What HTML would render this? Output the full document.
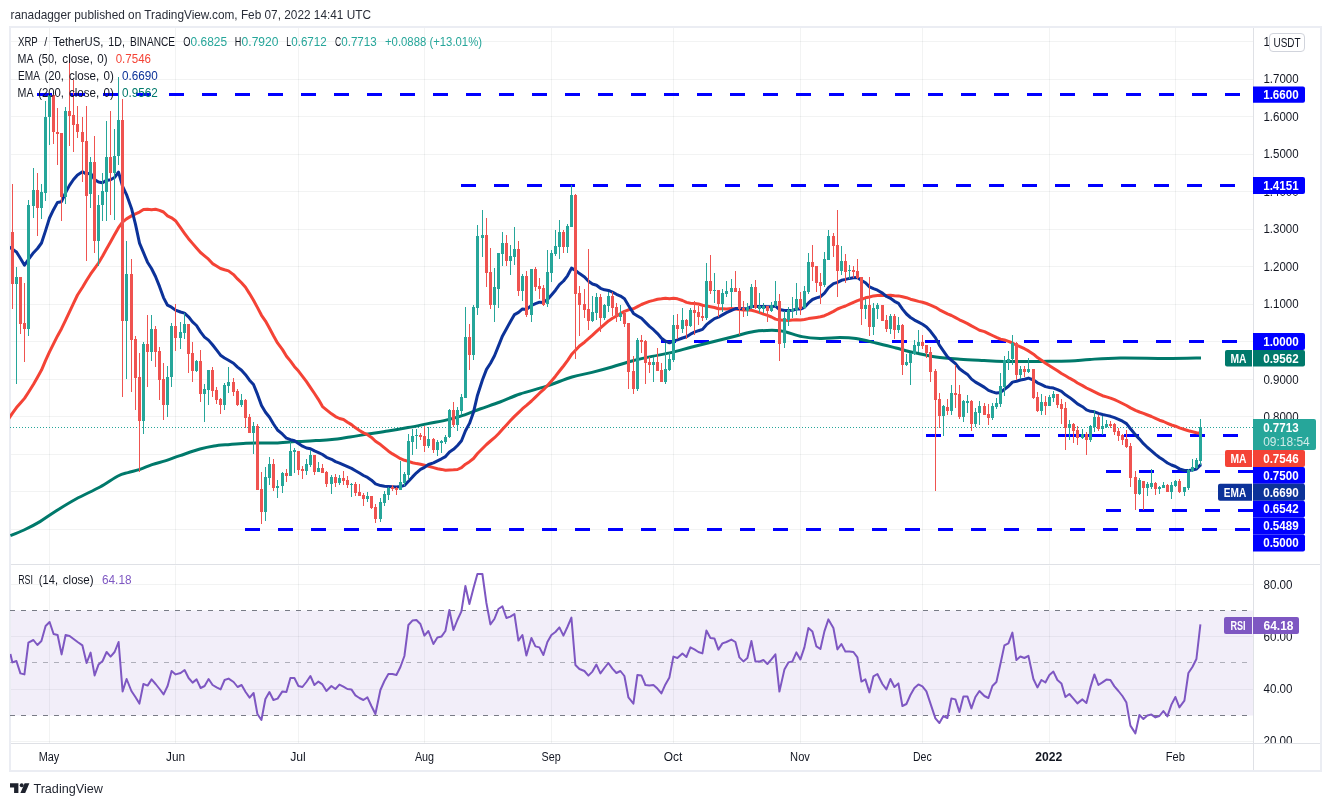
<!DOCTYPE html>
<html lang="en"><head><meta charset="utf-8"><title>XRP / TetherUS chart</title>
<style>html,body{margin:0;padding:0;background:#fff}body{width:1331px;height:806px;overflow:hidden;position:relative}</style>
</head><body>
<svg width="1331" height="806" viewBox="0 0 1331 806" style="display:block;position:absolute;left:0;top:0" font-family='"Liberation Sans", Arial, sans-serif' font-size="12" fill="#131722">
<rect width="1331" height="806" fill="#fff"/>
<defs><filter id="gs" filterUnits="userSpaceOnUse" x="0" y="0" width="1331" height="806" color-interpolation-filters="sRGB"><feOffset dx="0" dy="0"/></filter></defs>
<g filter="url(#gs)">
<rect x="10" y="27" width="1311" height="744" fill="#fff" stroke="#ebedf3" stroke-width="2"/>
<defs><clipPath id="cm"><rect x="10" y="28" width="1243.5" height="536.5"/></clipPath><clipPath id="cr"><rect x="10" y="565" width="1243.5" height="178.5"/></clipPath></defs>
<path d="M49.5 28V564.5M49.5 565.5V743.5M175.5 28V564.5M175.5 565.5V743.5M298.5 28V564.5M298.5 565.5V743.5M424.5 28V564.5M424.5 565.5V743.5M551.5 28V564.5M551.5 565.5V743.5M673.5 28V564.5M673.5 565.5V743.5M800.5 28V564.5M800.5 565.5V743.5M922.5 28V564.5M922.5 565.5V743.5M1049.5 28V564.5M1049.5 565.5V743.5M1175.5 28V564.5M1175.5 565.5V743.5M11 41.5H1253.5M11 79.5H1253.5M11 116.5H1253.5M11 154.5H1253.5M11 191.5H1253.5M11 229.5H1253.5M11 266.5H1253.5M11 304.5H1253.5M11 341.5H1253.5M11 379.5H1253.5M11 416.5H1253.5M11 454.5H1253.5M11 491.5H1253.5M11 529.5H1253.5M11 584.5H1253.5M11 636.5H1253.5M11 689.5H1253.5M11 741.5H1253.5" stroke="#2a2e39" stroke-opacity="0.058" stroke-width="1" fill="none"/>
<rect x="11" y="610.5" width="1242.5" height="105" fill="#7e57c2" fill-opacity="0.1"/>
<path d="M10 610.5H1249M10 715.5H1249" stroke="#787b86" stroke-width="1" stroke-dasharray="5 6" fill="none"/>
<path d="M10 662.5H1249" stroke="#787b86" stroke-opacity="0.55" stroke-width="1" stroke-dasharray="5 6" fill="none"/>
<path d="M11 564.5H1320 M11 743.5H1320 M1253.5 28V770" stroke="#dfe1e6" stroke-width="1" fill="none"/>
<g clip-path="url(#cm)">
<path d="M37 94.5H52M70 94.5H85M103 94.5H118M136 94.5H151M169 94.5H184M202 94.5H217M235 94.5H250M268 94.5H283M301 94.5H316M334 94.5H349M367 94.5H382M400 94.5H415M433 94.5H448M466 94.5H481M499 94.5H514M532 94.5H547M565 94.5H580M598 94.5H613M631 94.5H646M664 94.5H679M697 94.5H712M730 94.5H745M763 94.5H778M796 94.5H811M829 94.5H844M862 94.5H877M895 94.5H910M928 94.5H943M961 94.5H976M994 94.5H1009M1027 94.5H1042M1060 94.5H1075M1093 94.5H1108M1126 94.5H1141M1159 94.5H1174M1192 94.5H1207M1225 94.5H1240M461 185.5H476M494 185.5H509M527 185.5H542M560 185.5H575M593 185.5H608M626 185.5H641M659 185.5H674M692 185.5H707M725 185.5H740M758 185.5H773M791 185.5H806M824 185.5H839M857 185.5H872M890 185.5H905M923 185.5H938M956 185.5H971M989 185.5H1004M1022 185.5H1037M1055 185.5H1070M1088 185.5H1103M1121 185.5H1136M1154 185.5H1169M1187 185.5H1202M1220 185.5H1235M1253 185.5H1253.5M661 341.5H676M694 341.5H709M727 341.5H742M760 341.5H775M793 341.5H808M826 341.5H841M859 341.5H874M892 341.5H907M925 341.5H940M958 341.5H973M991 341.5H1006M1024 341.5H1039M1057 341.5H1072M1090 341.5H1105M1123 341.5H1138M1156 341.5H1171M1189 341.5H1204M1222 341.5H1237M926 435.5H941M959 435.5H974M992 435.5H1007M1025 435.5H1040M1058 435.5H1073M1091 435.5H1106M1124 435.5H1139M1157 435.5H1172M1190 435.5H1205M1223 435.5H1238M1106 471.5H1121M1139 471.5H1154M1172 471.5H1187M1205 471.5H1220M1238 471.5H1253M1106 510.5H1121M1139 510.5H1154M1172 510.5H1187M1205 510.5H1220M1238 510.5H1253M245 529.5H260M278 529.5H293M311 529.5H326M344 529.5H359M377 529.5H392M410 529.5H425M443 529.5H458M476 529.5H491M509 529.5H524M542 529.5H557M575 529.5H590M608 529.5H623M641 529.5H656M674 529.5H689M707 529.5H722M740 529.5H755M773 529.5H788M806 529.5H821M839 529.5H854M872 529.5H887M905 529.5H920M938 529.5H953M971 529.5H986M1004 529.5H1019M1037 529.5H1052M1070 529.5H1085M1103 529.5H1118M1136 529.5H1151M1169 529.5H1184M1202 529.5H1217M1235 529.5H1250M1058 435.5H1106" stroke="#0000ff" stroke-width="3" fill="none"/>
<path d="M10 427.5H1253.5" stroke="#26a69a" stroke-width="1" stroke-dasharray="1 2" fill="none"/>
<path d="M10.4 535.6 C12.7 534.7 19.1 532.3 24.0 530.0 C28.9 527.7 34.7 524.8 40.0 521.6 C45.3 518.4 50.0 514.8 56.0 511.0 C62.0 507.2 68.7 503.0 76.0 499.0 C83.3 495.0 93.0 490.8 100.0 487.0 C107.0 483.2 113.3 478.4 118.0 476.0 C122.7 473.6 124.3 473.7 128.0 472.6 C131.7 471.5 136.0 470.7 140.0 469.4 C144.0 468.1 147.7 466.1 152.0 464.6 C156.3 463.1 161.3 462.1 166.0 460.6 C170.7 459.1 174.3 457.5 180.0 455.6 C185.7 453.7 194.3 450.6 200.0 449.0 C205.7 447.4 209.0 446.8 214.0 446.0 C219.0 445.2 224.7 444.9 230.0 444.4 C235.3 443.9 240.0 443.4 246.0 443.2 C252.0 443.0 261.0 443.0 266.0 443.0 C271.0 443.0 271.0 443.2 276.0 443.0 C281.0 442.8 289.3 442.0 296.0 441.6 C302.7 441.2 310.0 440.9 316.0 440.6 C322.0 440.3 326.3 440.2 332.0 439.6 C337.7 439.0 344.0 437.9 350.0 437.0 C356.0 436.1 361.7 435.0 368.0 434.0 C374.3 433.0 381.3 432.1 388.0 431.0 C394.7 429.9 401.3 428.8 408.0 427.6 C414.7 426.4 422.0 424.8 428.0 423.6 C434.0 422.4 438.7 421.8 444.0 420.6 C449.3 419.4 454.0 418.3 460.0 416.4 C466.0 414.5 473.3 411.4 480.0 409.0 C486.7 406.6 493.3 404.5 500.0 402.0 C506.7 399.5 512.3 396.6 520.0 394.0 C527.7 391.4 537.3 389.2 546.0 386.4 C554.7 383.6 564.3 379.3 572.0 377.0 C579.7 374.7 585.3 374.1 592.0 372.4 C598.7 370.7 605.3 368.9 612.0 367.0 C618.7 365.1 625.3 362.8 632.0 361.0 C638.7 359.2 645.3 357.8 652.0 356.4 C658.7 355.0 665.3 354.0 672.0 352.4 C678.7 350.8 684.7 348.9 692.0 347.0 C699.3 345.1 708.7 342.8 716.0 341.0 C723.3 339.2 729.7 337.6 736.0 336.0 C742.3 334.4 747.3 332.3 754.0 331.4 C760.7 330.5 770.7 330.3 776.0 330.4 C781.3 330.5 781.7 331.0 786.0 332.0 C790.3 333.0 796.3 335.5 802.0 336.6 C807.7 337.7 813.7 338.2 820.0 338.4 C826.3 338.6 834.0 337.6 840.0 337.6 C846.0 337.6 850.0 337.7 856.0 338.6 C862.0 339.5 869.3 341.4 876.0 343.0 C882.7 344.6 889.3 346.3 896.0 348.0 C902.7 349.7 909.3 351.5 916.0 353.0 C922.7 354.5 928.7 356.0 936.0 357.0 C943.3 358.0 952.0 358.6 960.0 359.2 C968.0 359.8 976.7 360.2 984.0 360.6 C991.3 361.0 994.7 361.3 1004.0 361.4 C1013.3 361.5 1029.0 361.5 1040.0 361.4 C1051.0 361.3 1061.7 361.3 1070.0 361.0 C1078.3 360.7 1081.7 359.9 1090.0 359.4 C1098.3 358.9 1107.3 358.2 1120.0 358.0 C1132.7 357.8 1152.5 358.4 1166.0 358.4 C1179.5 358.4 1195.2 358.0 1201.0 357.9" stroke="#00796b" stroke-width="3" fill="none" stroke-linecap="butt" stroke-linejoin="round"/>
<path d="M8.5 419.0 L12.5 413.1 L16.5 407.6 L20.5 403.1 L24.5 398.4 L28.5 392.2 L33.5 384.3 L37.5 377.3 L41.5 370.1 L45.5 360.6 L49.5 351.8 L53.5 343.8 L57.5 335.9 L61.5 328.7 L65.5 320.4 L69.5 311.9 L73.5 303.3 L77.5 295.0 L82.5 287.3 L86.5 280.5 L90.5 274.2 L94.5 268.6 L98.5 263.0 L102.5 256.3 L106.5 249.1 L110.5 241.9 L114.5 234.8 L118.5 227.7 L122.5 222.2 L126.5 218.9 L131.5 215.9 L135.5 213.9 L139.5 212.1 L143.5 209.5 L147.5 209.3 L151.5 209.7 L155.5 209.3 L159.5 210.4 L163.5 212.0 L167.5 215.8 L171.5 217.8 L175.5 220.7 L180.5 227.7 L184.5 233.3 L188.5 238.7 L192.5 243.4 L196.5 248.0 L200.5 252.5 L204.5 255.8 L208.5 259.2 L212.5 263.6 L216.5 266.0 L220.5 268.5 L224.5 269.8 L228.5 270.9 L233.5 274.6 L237.5 278.9 L241.5 282.8 L245.5 287.3 L249.5 293.6 L253.5 300.3 L257.5 307.6 L261.5 315.3 L265.5 321.1 L269.5 328.3 L273.5 335.8 L277.5 342.9 L282.5 349.6 L286.5 356.2 L290.5 361.1 L294.5 366.7 L298.5 371.1 L302.5 376.3 L306.5 381.7 L310.5 387.6 L314.5 393.5 L318.5 399.6 L322.5 406.6 L326.5 409.8 L331.5 413.8 L335.5 416.6 L339.5 418.5 L343.5 419.5 L347.5 422.2 L351.5 424.6 L355.5 427.8 L359.5 430.5 L363.5 432.9 L367.5 434.7 L371.5 437.4 L375.5 441.3 L380.5 444.6 L384.5 447.9 L388.5 451.2 L392.5 453.9 L396.5 456.2 L400.5 458.7 L404.5 460.3 L408.5 461.4 L412.5 462.7 L416.5 463.6 L420.5 464.3 L424.5 465.2 L428.5 466.2 L433.5 467.6 L437.5 468.7 L441.5 469.4 L445.5 470.2 L449.5 470.0 L453.5 469.8 L457.5 469.5 L461.5 467.7 L465.5 464.2 L469.5 461.7 L473.5 458.5 L477.5 453.5 L482.5 448.5 L486.5 444.5 L490.5 441.0 L494.5 437.7 L498.5 433.8 L502.5 429.2 L506.5 424.9 L510.5 420.6 L514.5 416.4 L518.5 412.6 L522.5 408.7 L526.5 405.4 L531.5 401.0 L535.5 397.1 L539.5 393.2 L543.5 389.7 L547.5 385.5 L551.5 380.9 L555.5 376.2 L559.5 371.0 L563.5 366.0 L567.5 360.6 L571.5 354.6 L575.5 350.3 L579.5 346.0 L584.5 342.2 L588.5 338.7 L592.5 335.1 L596.5 331.3 L600.5 327.9 L604.5 324.4 L608.5 320.9 L612.5 318.3 L616.5 316.0 L620.5 313.6 L624.5 311.3 L628.5 309.8 L633.5 308.8 L637.5 306.6 L641.5 304.5 L645.5 302.9 L649.5 301.4 L653.5 300.4 L657.5 299.3 L661.5 298.8 L665.5 298.2 L669.5 298.7 L673.5 298.2 L677.5 298.8 L682.5 300.5 L686.5 302.4 L690.5 303.2 L694.5 303.4 L698.5 304.0 L702.5 305.3 L706.5 306.1 L710.5 306.8 L714.5 307.5 L718.5 308.7 L722.5 308.7 L726.5 309.1 L731.5 308.6 L735.5 309.1 L739.5 309.6 L743.5 310.0 L747.5 310.0 L751.5 310.3 L755.5 311.4 L759.5 312.6 L763.5 314.1 L767.5 315.4 L771.5 317.0 L775.5 319.1 L779.5 320.1 L784.5 320.3 L788.5 320.4 L792.5 320.1 L796.5 319.8 L800.5 320.0 L804.5 319.5 L808.5 318.6 L812.5 318.0 L816.5 317.4 L820.5 316.8 L824.5 315.7 L828.5 313.9 L833.5 311.4 L837.5 309.0 L841.5 307.4 L845.5 306.0 L849.5 304.2 L853.5 302.3 L857.5 300.6 L861.5 299.3 L865.5 297.8 L869.5 297.0 L873.5 295.9 L877.5 295.5 L882.5 295.3 L886.5 295.5 L890.5 295.3 L894.5 295.7 L898.5 295.9 L902.5 296.8 L906.5 297.7 L910.5 299.2 L914.5 300.3 L918.5 301.4 L922.5 302.2 L926.5 303.5 L930.5 305.1 L935.5 307.3 L939.5 309.8 L943.5 311.8 L947.5 313.8 L951.5 315.5 L955.5 317.6 L959.5 319.8 L963.5 321.7 L967.5 323.6 L971.5 325.9 L975.5 328.0 L979.5 330.2 L984.5 331.6 L988.5 333.6 L992.5 335.5 L996.5 337.4 L1000.5 339.1 L1004.5 340.0 L1008.5 341.4 L1012.5 343.0 L1016.5 345.2 L1020.5 346.9 L1024.5 348.7 L1028.5 350.9 L1033.5 354.2 L1037.5 357.6 L1041.5 360.3 L1045.5 363.2 L1049.5 365.7 L1053.5 368.2 L1057.5 370.8 L1061.5 373.5 L1065.5 375.8 L1069.5 378.2 L1073.5 380.3 L1077.5 383.0 L1082.5 385.6 L1086.5 388.0 L1090.5 389.9 L1094.5 391.8 L1098.5 393.8 L1102.5 395.7 L1106.5 396.9 L1110.5 398.1 L1114.5 399.7 L1118.5 401.5 L1122.5 403.5 L1126.5 405.5 L1130.5 407.9 L1135.5 410.4 L1139.5 412.0 L1143.5 413.4 L1147.5 415.0 L1151.5 416.5 L1155.5 418.3 L1159.5 420.2 L1163.5 421.5 L1167.5 423.3 L1171.5 425.0 L1175.5 426.2 L1179.5 427.9 L1184.5 429.5 L1188.5 430.7 L1192.5 431.7 L1196.5 432.7 L1200.5 433.2" stroke="#f44336" stroke-width="3" fill="none" stroke-linecap="butt" stroke-linejoin="round"/>
<path d="M8.5 246.5 L12.5 249.2 L16.5 251.9 L20.5 258.6 L24.5 265.2 L28.5 259.4 L33.5 252.7 L37.5 248.5 L41.5 243.0 L45.5 230.9 L49.5 218.0 L53.5 209.7 L57.5 202.4 L61.5 201.7 L65.5 192.9 L69.5 185.4 L73.5 179.5 L77.5 174.9 L82.5 171.8 L86.5 174.1 L90.5 173.0 L94.5 179.5 L98.5 182.0 L102.5 182.8 L106.5 180.4 L110.5 179.7 L114.5 177.5 L118.5 172.1 L122.5 186.2 L126.5 194.6 L131.5 208.4 L135.5 224.4 L139.5 243.1 L143.5 252.7 L147.5 262.2 L151.5 268.5 L155.5 276.5 L159.5 286.4 L163.5 297.6 L167.5 305.2 L171.5 307.2 L175.5 310.1 L180.5 312.0 L184.5 313.1 L188.5 316.8 L192.5 321.9 L196.5 325.5 L200.5 331.9 L204.5 337.1 L208.5 340.1 L212.5 344.8 L216.5 349.9 L220.5 355.2 L224.5 358.0 L228.5 360.2 L233.5 363.2 L237.5 367.1 L241.5 370.2 L245.5 374.7 L249.5 380.2 L253.5 384.5 L257.5 394.4 L261.5 405.5 L265.5 412.3 L269.5 417.3 L273.5 424.0 L277.5 430.0 L282.5 434.2 L286.5 438.2 L290.5 439.6 L294.5 440.7 L298.5 443.6 L302.5 446.2 L306.5 448.0 L310.5 448.7 L314.5 450.9 L318.5 452.6 L322.5 454.5 L326.5 457.3 L331.5 459.3 L335.5 461.6 L339.5 463.1 L343.5 464.9 L347.5 466.7 L351.5 468.4 L355.5 470.7 L359.5 473.0 L363.5 475.5 L367.5 477.4 L371.5 480.2 L375.5 483.9 L380.5 485.6 L384.5 486.3 L388.5 486.5 L392.5 486.7 L396.5 487.0 L400.5 486.6 L404.5 485.4 L408.5 481.3 L412.5 476.9 L416.5 472.8 L420.5 469.4 L424.5 467.3 L428.5 464.5 L433.5 462.8 L437.5 460.8 L441.5 458.8 L445.5 456.6 L449.5 452.0 L453.5 449.3 L457.5 445.5 L461.5 440.8 L465.5 430.8 L469.5 423.4 L473.5 412.2 L477.5 395.2 L482.5 379.8 L486.5 369.4 L490.5 363.2 L494.5 355.8 L498.5 345.9 L502.5 335.9 L506.5 328.7 L510.5 321.5 L514.5 314.6 L518.5 312.4 L522.5 308.9 L526.5 309.4 L531.5 305.5 L535.5 303.7 L539.5 302.2 L543.5 302.4 L547.5 299.4 L551.5 294.9 L555.5 290.2 L559.5 284.6 L563.5 281.0 L567.5 275.8 L571.5 268.1 L575.5 270.4 L579.5 273.6 L584.5 277.0 L588.5 281.2 L592.5 284.0 L596.5 285.2 L600.5 288.3 L604.5 289.8 L608.5 290.4 L612.5 292.1 L616.5 294.3 L620.5 296.1 L624.5 298.7 L628.5 305.5 L633.5 313.4 L637.5 315.9 L641.5 318.3 L645.5 322.4 L649.5 326.4 L653.5 329.7 L657.5 333.6 L661.5 338.2 L665.5 341.1 L669.5 342.8 L673.5 341.1 L677.5 339.9 L682.5 338.0 L686.5 336.8 L690.5 334.2 L694.5 332.2 L698.5 330.7 L702.5 329.4 L706.5 324.7 L710.5 321.5 L714.5 318.6 L718.5 317.2 L722.5 314.9 L726.5 312.6 L731.5 310.3 L735.5 308.6 L739.5 308.6 L743.5 308.7 L747.5 308.5 L751.5 306.4 L755.5 306.5 L759.5 306.4 L763.5 306.4 L767.5 306.8 L771.5 306.7 L775.5 306.1 L779.5 309.6 L784.5 310.4 L788.5 310.4 L792.5 310.3 L796.5 309.1 L800.5 309.1 L804.5 307.3 L808.5 302.9 L812.5 299.5 L816.5 297.9 L820.5 296.7 L824.5 293.1 L828.5 287.6 L833.5 283.6 L837.5 282.4 L841.5 280.3 L845.5 279.4 L849.5 278.4 L853.5 277.7 L857.5 277.6 L861.5 280.5 L865.5 282.8 L869.5 286.9 L873.5 288.7 L877.5 290.2 L882.5 293.1 L886.5 296.5 L890.5 298.3 L894.5 301.3 L898.5 303.4 L902.5 309.1 L906.5 314.0 L910.5 317.5 L914.5 320.1 L918.5 322.1 L922.5 324.3 L926.5 327.0 L930.5 331.3 L935.5 337.9 L939.5 345.4 L943.5 351.2 L947.5 356.9 L951.5 360.3 L955.5 363.6 L959.5 368.7 L963.5 371.7 L967.5 374.4 L971.5 379.1 L975.5 382.1 L979.5 384.4 L984.5 387.4 L988.5 390.4 L992.5 391.9 L996.5 393.1 L1000.5 392.4 L1004.5 389.3 L1008.5 386.3 L1012.5 382.1 L1016.5 381.3 L1020.5 380.0 L1024.5 379.2 L1028.5 378.1 L1033.5 380.0 L1037.5 382.8 L1041.5 384.6 L1045.5 386.6 L1049.5 387.5 L1053.5 388.1 L1057.5 389.6 L1061.5 391.4 L1065.5 394.8 L1069.5 397.4 L1073.5 400.5 L1077.5 403.9 L1082.5 406.7 L1086.5 409.9 L1090.5 411.3 L1094.5 411.8 L1098.5 413.4 L1102.5 414.5 L1106.5 415.4 L1110.5 416.3 L1114.5 417.7 L1118.5 419.3 L1122.5 421.2 L1126.5 423.6 L1130.5 428.7 L1135.5 434.9 L1139.5 439.1 L1143.5 443.7 L1147.5 447.5 L1151.5 450.8 L1155.5 454.4 L1159.5 457.5 L1163.5 460.1 L1167.5 463.0 L1171.5 465.0 L1175.5 466.5 L1179.5 468.9 L1184.5 470.5 L1188.5 470.4 L1192.5 470.0 L1196.5 469.0 L1200.5 464.9 L1201.6 464.8" stroke="#0c3299" stroke-width="3" fill="none" stroke-linecap="butt" stroke-linejoin="round"/>
<path d="M12 184h1v125h-1zM20 277h1v57h-1zM24 283h1v79h-1zM37 173h1v63h-1zM53 95h1v49h-1zM57 108h1v57h-1zM61 133h1v88h-1zM69 55h1v91h-1zM73 80h1v72h-1zM77 106h1v32h-1zM82 117h1v65h-1zM86 106h1v155h-1zM94 136h1v117h-1zM110 111h1v104h-1zM122 99h1v298h-1zM131 259h1v133h-1zM135 336h1v74h-1zM139 353h1v119h-1zM147 315h1v72h-1zM155 326h1v41h-1zM159 347h1v53h-1zM163 363h1v57h-1zM175 304h1v47h-1zM188 324h1v49h-1zM192 342h1v40h-1zM200 350h1v52h-1zM212 367h1v30h-1zM216 387h1v17h-1zM220 398h1v16h-1zM233 378h1v18h-1zM237 389h1v17h-1zM245 399h1v29h-1zM249 414h1v19h-1zM257 424h1v66h-1zM261 472h1v52h-1zM273 459h1v32h-1zM286 469h1v13h-1zM298 451h1v24h-1zM302 466h1v13h-1zM314 455h1v20h-1zM322 464h1v9h-1zM326 471h1v16h-1zM335 474h1v13h-1zM343 471h1v14h-1zM347 476h1v12h-1zM355 482h1v14h-1zM359 484h1v12h-1zM363 493h1v13h-1zM371 496h1v13h-1zM375 504h1v19h-1zM392 485h1v6h-1zM396 487h1v8h-1zM420 433h1v7h-1zM424 426h1v26h-1zM433 438h1v15h-1zM453 402h1v25h-1zM469 324h1v46h-1zM486 218h1v69h-1zM490 248h1v61h-1zM506 235h1v31h-1zM518 241h1v55h-1zM526 271h1v46h-1zM535 267h1v24h-1zM539 278h1v21h-1zM543 285h1v21h-1zM563 230h1v23h-1zM575 194h1v165h-1zM579 286h1v50h-1zM584 289h1v29h-1zM588 249h1v81h-1zM600 294h1v38h-1zM612 292h1v24h-1zM616 303h1v19h-1zM624 311h1v16h-1zM628 323h1v66h-1zM633 356h1v38h-1zM641 335h1v18h-1zM645 340h1v44h-1zM649 357h1v16h-1zM657 348h1v23h-1zM661 363h1v19h-1zM677 314h1v25h-1zM686 319h1v20h-1zM694 301h1v34h-1zM698 306h1v19h-1zM702 306h1v15h-1zM710 255h1v39h-1zM718 290h1v27h-1zM735 271h1v21h-1zM739 288h1v47h-1zM743 301h1v16h-1zM755 280h1v29h-1zM767 306h1v16h-1zM779 294h1v67h-1zM800 292h1v23h-1zM812 245h1v36h-1zM816 266h1v26h-1zM820 273h1v31h-1zM833 233h1v24h-1zM837 210h1v87h-1zM845 254h1v29h-1zM853 266h1v12h-1zM857 259h1v20h-1zM861 277h1v48h-1zM869 277h1v59h-1zM882 305h1v16h-1zM886 315h1v17h-1zM894 314h1v25h-1zM902 324h1v51h-1zM922 335h1v14h-1zM926 345h1v13h-1zM930 347h1v35h-1zM935 369h1v122h-1zM939 393h1v35h-1zM947 399h1v16h-1zM955 365h1v43h-1zM959 385h1v34h-1zM971 400h1v31h-1zM984 403h1v12h-1zM988 404h1v21h-1zM1016 342h1v38h-1zM1024 366h1v11h-1zM1033 369h1v30h-1zM1037 392h1v20h-1zM1045 396h1v19h-1zM1057 394h1v14h-1zM1061 399h1v25h-1zM1065 402h1v48h-1zM1073 423h1v20h-1zM1077 426h1v19h-1zM1086 432h1v23h-1zM1098 415h1v16h-1zM1110 421h1v7h-1zM1114 423h1v12h-1zM1118 428h1v13h-1zM1122 434h1v11h-1zM1126 430h1v18h-1zM1130 443h1v44h-1zM1135 471h1v39h-1zM1143 481h1v29h-1zM1155 482h1v13h-1zM1167 484h1v8h-1zM1179 479h1v14h-1zM11 232h3v52h-3zM19 277h3v47h-3zM23 323h3v6h-3zM36 190h3v18h-3zM52 95h3v37h-3zM56 132h3v2h-3zM60 133h3v64h-3zM68 111h3v5h-3zM72 115h3v10h-3zM76 124h3v8h-3zM81 132h3v10h-3zM85 141h3v55h-3zM93 162h3v79h-3zM109 157h3v16h-3zM121 120h3v201h-3zM130 274h3v66h-3zM134 339h3v39h-3zM138 377h3v44h-3zM146 344h3v8h-3zM154 329h3v23h-3zM158 351h3v29h-3zM162 379h3v26h-3zM174 326h3v12h-3zM187 324h3v30h-3zM191 353h3v18h-3zM199 361h3v33h-3zM211 370h3v21h-3zM215 390h3v10h-3zM219 399h3v6h-3zM232 382h3v10h-3zM236 391h3v14h-3zM244 400h3v18h-3zM248 417h3v16h-3zM256 426h3v64h-3zM260 489h3v23h-3zM272 464h3v24h-3zM285 473h3v3h-3zM297 451h3v19h-3zM301 469h3v2h-3zM313 455h3v17h-3zM321 468h3v5h-3zM325 472h3v12h-3zM334 477h3v6h-3zM342 478h3v3h-3zM346 480h3v5h-3zM354 484h3v9h-3zM358 492h3v4h-3zM362 495h3v4h-3zM370 496h3v12h-3zM374 507h3v12h-3zM391 487h3v2h-3zM395 488h3v2h-3zM419 435h3v2h-3zM423 436h3v10h-3zM432 439h3v11h-3zM452 410h3v15h-3zM468 337h3v18h-3zM485 235h3v38h-3zM489 272h3v33h-3zM505 243h3v18h-3zM517 249h3v42h-3zM525 276h3v39h-3zM534 269h3v18h-3zM538 286h3v3h-3zM542 288h3v17h-3zM562 232h3v15h-3zM574 195h3v99h-3zM578 293h3v12h-3zM583 304h3v6h-3zM587 309h3v12h-3zM599 297h3v21h-3zM611 296h3v12h-3zM615 307h3v9h-3zM623 313h3v11h-3zM627 323h3v49h-3zM632 371h3v18h-3zM640 340h3v2h-3zM644 341h3v22h-3zM648 362h3v3h-3zM656 362h3v9h-3zM660 370h3v12h-3zM676 325h3v4h-3zM685 320h3v6h-3zM693 310h3v3h-3zM697 312h3v5h-3zM701 316h3v2h-3zM709 281h3v10h-3zM717 290h3v14h-3zM734 288h3v4h-3zM738 291h3v18h-3zM742 308h3v2h-3zM754 287h3v21h-3zM766 306h3v5h-3zM778 301h3v43h-3zM799 299h3v10h-3zM811 262h3v5h-3zM815 266h3v17h-3zM819 282h3v4h-3zM832 236h3v10h-3zM836 245h3v26h-3zM844 261h3v11h-3zM852 270h3v2h-3zM856 271h3v7h-3zM860 277h3v32h-3zM868 305h3v22h-3zM881 305h3v16h-3zM885 320h3v9h-3zM893 316h3v14h-3zM901 325h3v40h-3zM921 342h3v4h-3zM925 345h3v8h-3zM929 352h3v20h-3zM934 371h3v29h-3zM938 399h3v17h-3zM946 407h3v4h-3zM954 393h3v2h-3zM958 394h3v23h-3zM970 401h3v23h-3zM983 406h3v9h-3zM987 414h3v4h-3zM1015 343h3v32h-3zM1023 369h3v3h-3zM1032 369h3v29h-3zM1036 397h3v14h-3zM1044 402h3v4h-3zM1056 394h3v11h-3zM1060 404h3v5h-3zM1064 408h3v20h-3zM1072 424h3v7h-3zM1076 430h3v8h-3zM1085 434h3v6h-3zM1097 417h3v12h-3zM1109 424h3v2h-3zM1113 424h3v8h-3zM1117 431h3v5h-3zM1121 435h3v5h-3zM1125 439h3v8h-3zM1129 446h3v32h-3zM1134 477h3v17h-3zM1142 481h3v7h-3zM1154 483h3v6h-3zM1166 485h3v7h-3zM1178 481h3v11h-3z" fill="#ef5350"/>
<path d="M16 267h1v117h-1zM28 200h1v136h-1zM33 168h1v50h-1zM41 184h1v35h-1zM45 101h1v100h-1zM49 93h1v52h-1zM65 107h1v97h-1zM90 157h1v51h-1zM98 195h1v71h-1zM102 173h1v48h-1zM106 121h1v100h-1zM114 129h1v91h-1zM118 77h1v88h-1zM126 241h1v138h-1zM143 342h1v92h-1zM151 315h1v46h-1zM167 366h1v51h-1zM171 323h1v64h-1zM180 322h1v27h-1zM184 313h1v26h-1zM196 360h1v12h-1zM204 384h1v38h-1zM208 370h1v35h-1zM224 383h1v27h-1zM228 367h1v26h-1zM241 394h1v13h-1zM253 422h1v32h-1zM265 467h1v54h-1zM269 457h1v28h-1zM277 480h1v18h-1zM282 472h1v21h-1zM290 442h1v34h-1zM294 448h1v25h-1zM306 459h1v16h-1zM310 450h1v17h-1zM318 462h1v10h-1zM331 475h1v19h-1zM339 475h1v10h-1zM351 483h1v14h-1zM367 492h1v10h-1zM380 498h1v24h-1zM384 491h1v15h-1zM388 487h1v13h-1zM400 461h1v29h-1zM404 472h1v14h-1zM408 434h1v46h-1zM412 429h1v26h-1zM416 429h1v20h-1zM428 427h1v21h-1zM437 440h1v16h-1zM441 440h1v13h-1zM445 435h1v9h-1zM449 409h1v29h-1zM457 407h1v24h-1zM461 394h1v21h-1zM465 307h1v91h-1zM473 305h1v55h-1zM477 225h1v90h-1zM482 210h1v47h-1zM494 268h1v54h-1zM498 253h1v55h-1zM502 232h1v34h-1zM510 245h1v30h-1zM514 227h1v38h-1zM522 274h1v27h-1zM531 269h1v53h-1zM547 250h1v57h-1zM551 250h1v32h-1zM555 230h1v26h-1zM559 220h1v39h-1zM567 224h1v29h-1zM571 185h1v42h-1zM592 296h1v26h-1zM596 293h1v27h-1zM604 304h1v16h-1zM608 292h1v20h-1zM620 305h1v16h-1zM637 338h1v53h-1zM653 357h1v25h-1zM665 343h1v41h-1zM669 353h1v18h-1zM673 315h1v47h-1zM682 308h1v25h-1zM690 308h1v19h-1zM706 263h1v57h-1zM714 273h1v30h-1zM722 289h1v23h-1zM726 281h1v16h-1zM731 279h1v28h-1zM747 303h1v13h-1zM751 284h1v25h-1zM759 293h1v20h-1zM763 303h1v10h-1zM771 302h1v10h-1zM775 281h1v26h-1zM784 311h1v37h-1zM788 307h1v19h-1zM792 297h1v21h-1zM796 283h1v32h-1zM804 286h1v23h-1zM808 253h1v41h-1zM824 252h1v35h-1zM828 230h1v30h-1zM841 246h1v29h-1zM849 265h1v14h-1zM865 299h1v20h-1zM873 303h1v32h-1zM877 303h1v16h-1zM890 314h1v20h-1zM898 317h1v16h-1zM906 354h1v12h-1zM910 353h1v32h-1zM914 340h1v15h-1zM918 330h1v22h-1zM943 405h1v31h-1zM951 385h1v30h-1zM963 400h1v22h-1zM967 395h1v18h-1zM975 408h1v19h-1zM979 401h1v24h-1zM992 403h1v17h-1zM996 398h1v11h-1zM1000 373h1v34h-1zM1004 356h1v40h-1zM1008 351h1v19h-1zM1012 335h1v30h-1zM1020 366h1v13h-1zM1028 358h1v15h-1zM1041 394h1v21h-1zM1049 395h1v11h-1zM1053 391h1v11h-1zM1069 420h1v20h-1zM1082 429h1v10h-1zM1090 425h1v17h-1zM1094 410h1v22h-1zM1102 416h1v19h-1zM1106 420h1v8h-1zM1139 478h1v17h-1zM1147 482h1v14h-1zM1151 469h1v20h-1zM1159 486h1v8h-1zM1163 482h1v6h-1zM1171 482h1v17h-1zM1175 480h1v7h-1zM1184 487h1v9h-1zM1188 469h1v21h-1zM1192 459h1v13h-1zM1196 458h1v11h-1zM1200 419h1v46h-1zM15 277h3v7h-3zM27 205h3v124h-3zM32 190h3v16h-3zM40 192h3v16h-3zM44 117h3v76h-3zM48 95h3v22h-3zM64 111h3v86h-3zM89 162h3v32h-3zM97 205h3v36h-3zM101 191h3v14h-3zM105 157h3v35h-3zM113 156h3v17h-3zM117 120h3v36h-3zM125 274h3v47h-3zM142 344h3v77h-3zM150 329h3v23h-3zM166 377h3v28h-3zM170 326h3v51h-3zM179 332h3v6h-3zM183 324h3v9h-3zM195 361h3v10h-3zM203 389h3v5h-3zM207 370h3v20h-3zM223 385h3v20h-3zM227 382h3v4h-3zM240 400h3v5h-3zM252 426h3v7h-3zM264 477h3v35h-3zM268 464h3v14h-3zM276 486h3v2h-3zM281 473h3v13h-3zM289 451h3v25h-3zM293 450h3v2h-3zM305 464h3v7h-3zM309 455h3v10h-3zM317 468h3v4h-3zM330 477h3v7h-3zM338 478h3v5h-3zM350 484h3v1h-3zM366 496h3v3h-3zM379 502h3v17h-3zM383 494h3v9h-3zM387 488h3v7h-3zM399 482h3v8h-3zM403 474h3v9h-3zM407 441h3v34h-3zM411 436h3v6h-3zM415 435h3v1h-3zM427 439h3v7h-3zM436 442h3v8h-3zM440 441h3v2h-3zM444 437h3v5h-3zM448 410h3v27h-3zM456 410h3v15h-3zM460 397h3v14h-3zM464 337h3v61h-3zM472 307h3v48h-3zM476 236h3v72h-3zM481 235h3v3h-3zM493 287h3v18h-3zM497 253h3v36h-3zM501 243h3v11h-3zM509 256h3v5h-3zM513 249h3v8h-3zM521 276h3v15h-3zM530 269h3v46h-3zM546 272h3v32h-3zM550 253h3v20h-3zM554 246h3v8h-3zM558 232h3v15h-3zM566 226h3v21h-3zM570 195h3v32h-3zM591 312h3v9h-3zM595 297h3v16h-3zM603 305h3v13h-3zM607 296h3v10h-3zM619 313h3v4h-3zM636 340h3v49h-3zM652 362h3v3h-3zM664 369h3v13h-3zM668 359h3v11h-3zM672 325h3v35h-3zM681 320h3v9h-3zM689 310h3v16h-3zM705 281h3v37h-3zM713 290h3v1h-3zM721 293h3v11h-3zM725 291h3v3h-3zM730 288h3v4h-3zM746 307h3v4h-3zM750 287h3v21h-3zM758 306h3v3h-3zM762 306h3v3h-3zM770 305h3v6h-3zM774 301h3v5h-3zM783 318h3v25h-3zM787 310h3v10h-3zM791 309h3v2h-3zM795 299h3v11h-3zM803 291h3v17h-3zM807 262h3v30h-3zM823 259h3v26h-3zM827 236h3v24h-3zM840 261h3v10h-3zM848 270h3v1h-3zM864 305h3v4h-3zM872 308h3v19h-3zM876 305h3v4h-3zM889 316h3v13h-3zM897 325h3v5h-3zM905 362h3v3h-3zM909 353h3v10h-3zM913 345h3v9h-3zM917 342h3v4h-3zM942 406h3v10h-3zM950 393h3v18h-3zM962 401h3v16h-3zM966 401h3v2h-3zM974 412h3v12h-3zM978 406h3v7h-3zM991 406h3v12h-3zM995 403h3v4h-3zM999 386h3v18h-3zM1003 360h3v27h-3zM1007 359h3v3h-3zM1011 343h3v16h-3zM1019 369h3v6h-3zM1027 369h3v3h-3zM1040 402h3v9h-3zM1048 397h3v9h-3zM1052 394h3v4h-3zM1068 424h3v4h-3zM1081 434h3v4h-3zM1089 426h3v14h-3zM1093 417h3v10h-3zM1101 426h3v3h-3zM1105 424h3v3h-3zM1138 480h3v14h-3zM1146 484h3v4h-3zM1150 483h3v4h-3zM1158 487h3v2h-3zM1162 485h3v3h-3zM1170 485h3v7h-3zM1174 481h3v5h-3zM1183 487h3v5h-3zM1187 470h3v18h-3zM1191 467h3v4h-3zM1195 460h3v8h-3zM1199 427h3v34h-3z" fill="#26a69a"/>
</g>
<g clip-path="url(#cr)"><path d="M10.4 654.0 L12.4 662.4 L16.4 661.0 L20.4 673.4 L24.4 674.4 L28.4 642.6 L33.4 640.0 L37.4 645.0 L41.4 641.0 L45.6 626.0 L49.6 622.0 L53.6 634.0 L57.6 635.0 L61.6 654.4 L65.6 635.0 L69.6 636.0 L73.6 639.0 L77.6 642.0 L82.4 645.4 L86.6 663.0 L90.6 652.6 L94.6 675.4 L98.6 664.4 L102.6 661.0 L106.6 652.0 L110.6 656.6 L114.6 652.0 L118.6 642.0 L122.6 691.4 L126.6 679.0 L131.4 691.0 L135.4 697.0 L139.4 703.6 L143.4 684.0 L147.6 685.6 L151.6 679.4 L155.6 684.0 L159.6 689.0 L163.6 694.4 L167.6 686.0 L171.6 671.0 L175.6 674.4 L180.6 673.0 L184.6 670.0 L188.6 678.0 L192.6 682.6 L196.6 679.4 L200.6 688.0 L204.6 686.0 L208.6 679.0 L212.6 685.0 L216.6 687.4 L220.6 689.4 L224.6 680.0 L228.6 678.6 L233.6 682.0 L237.6 687.0 L241.6 685.0 L245.6 692.0 L249.6 697.6 L253.6 693.0 L257.4 714.0 L261.4 720.0 L265.4 699.0 L269.4 692.0 L273.4 700.0 L277.6 698.6 L282.4 691.4 L286.4 692.0 L290.4 678.0 L294.4 678.0 L298.4 686.0 L302.4 687.0 L306.4 682.0 L310.4 676.0 L314.4 685.0 L318.4 681.6 L322.4 684.4 L326.4 691.0 L331.4 686.0 L335.4 689.0 L339.4 684.6 L343.4 686.6 L347.4 689.0 L351.4 689.4 L355.4 695.4 L359.4 698.0 L363.4 700.0 L367.4 697.4 L371.4 706.0 L375.4 714.0 L380.4 690.0 L384.4 681.0 L388.4 674.0 L392.4 674.0 L396.4 675.0 L400.4 667.0 L404.4 656.0 L408.4 625.0 L412.4 620.6 L416.4 620.0 L420.4 624.0 L424.4 635.6 L428.4 631.0 L433.4 644.0 L437.4 637.4 L441.4 636.6 L445.4 631.0 L449.4 610.0 L453.4 630.0 L457.4 620.0 L461.4 611.4 L465.4 586.0 L469.4 604.0 L473.4 588.6 L477.4 574.0 L482.4 574.0 L486.4 603.0 L490.4 624.4 L494.4 619.0 L498.4 609.0 L502.4 606.4 L506.4 618.0 L510.4 616.6 L514.4 614.0 L518.4 640.6 L522.4 635.0 L526.4 655.6 L531.4 638.0 L535.4 646.4 L539.4 647.4 L543.4 655.0 L547.4 642.0 L551.4 635.0 L555.4 632.0 L559.4 627.4 L563.4 635.6 L567.4 627.0 L571.4 617.6 L575.4 665.0 L579.4 669.0 L584.4 671.0 L588.4 675.6 L592.4 671.6 L596.4 664.6 L600.4 673.4 L604.4 668.0 L608.4 663.0 L612.4 668.6 L616.4 673.0 L620.4 671.0 L624.4 676.0 L628.4 697.4 L633.4 703.6 L637.4 675.0 L641.4 675.4 L645.4 685.0 L649.4 685.6 L653.4 685.0 L657.4 688.6 L661.4 693.4 L665.4 684.4 L669.4 677.4 L673.4 656.6 L677.4 658.0 L682.4 653.6 L686.4 657.0 L690.4 647.4 L694.4 649.4 L698.4 652.0 L702.4 653.4 L706.4 630.6 L710.4 638.0 L714.4 638.4 L718.4 649.6 L722.4 643.4 L726.4 642.0 L731.4 639.6 L735.4 642.0 L739.4 657.4 L743.4 661.4 L747.4 658.0 L751.4 641.0 L755.4 661.6 L759.4 661.6 L763.4 660.0 L767.4 664.0 L771.4 659.4 L775.4 654.4 L779.4 691.6 L784.4 669.6 L788.4 662.4 L792.4 661.4 L796.4 652.4 L800.4 659.4 L804.4 647.4 L808.4 628.0 L812.4 631.4 L816.4 646.4 L820.4 649.0 L824.4 631.4 L828.4 619.4 L833.4 628.0 L837.4 649.4 L841.4 644.0 L845.4 651.6 L849.4 651.6 L853.4 652.0 L857.4 657.4 L861.4 681.6 L865.4 679.4 L869.4 692.4 L873.4 676.4 L877.4 674.0 L882.4 684.0 L886.4 689.4 L890.4 679.0 L894.4 687.0 L898.4 683.4 L902.4 706.0 L906.4 704.0 L910.4 695.0 L914.4 688.0 L918.4 684.4 L922.4 686.4 L926.4 691.4 L930.4 703.4 L935.4 718.4 L939.4 723.0 L943.4 716.0 L947.4 718.0 L951.4 698.4 L955.4 699.4 L959.4 712.0 L963.4 696.4 L967.4 696.4 L971.4 708.4 L975.4 697.0 L979.4 691.0 L984.4 696.0 L988.4 698.0 L992.4 686.0 L996.4 682.0 L1000.4 664.0 L1004.4 645.4 L1008.4 643.4 L1012.4 632.6 L1016.4 660.0 L1020.4 656.5 L1024.4 658.0 L1028.4 655.8 L1033.4 679.0 L1037.4 687.4 L1041.4 680.0 L1045.4 682.4 L1049.4 675.0 L1053.4 671.6 L1057.4 680.0 L1061.4 683.4 L1065.4 697.0 L1069.4 694.0 L1073.4 698.6 L1077.4 703.4 L1082.4 699.4 L1086.4 703.0 L1090.4 687.4 L1094.4 674.4 L1098.4 685.0 L1102.4 682.4 L1106.4 679.6 L1110.4 680.0 L1114.4 686.4 L1118.4 691.0 L1122.4 696.0 L1126.4 702.6 L1130.4 725.6 L1135.4 733.4 L1139.4 715.0 L1143.4 719.0 L1147.4 715.4 L1151.4 714.6 L1155.4 717.4 L1159.4 716.0 L1163.4 711.0 L1167.4 716.4 L1171.4 704.6 L1175.4 697.0 L1179.4 707.4 L1184.4 700.6 L1188.4 673.0 L1192.4 667.0 L1196.4 659.0 L1200.4 624.4" stroke="#7e57c2" stroke-width="2" fill="none" stroke-linejoin="round"/></g>
<text x="10.5" y="19" textLength="360.5" lengthAdjust="spacingAndGlyphs" fill="#2a2e39" font-size="13">ranadagger published on TradingView.com, Feb 07, 2022 14:41 UTC</text>
<text x="18.2" y="584.3" textLength="14.8" lengthAdjust="spacingAndGlyphs">RSI</text>
<text x="38.8" y="584.3" textLength="19.2" lengthAdjust="spacingAndGlyphs">(14,</text>
<text x="62.8" y="584.3" textLength="30.8" lengthAdjust="spacingAndGlyphs">close)</text>
<text x="102" y="584.3" textLength="29.5" lengthAdjust="spacingAndGlyphs" fill="#7e57c2">64.18</text>
<text x="18" y="45.9" textLength="19.8" lengthAdjust="spacingAndGlyphs">XRP</text>
<text x="44.3" y="45.9" textLength="3" lengthAdjust="spacingAndGlyphs">/</text>
<text x="53" y="45.9" textLength="50.4" lengthAdjust="spacingAndGlyphs">TetherUS,</text>
<text x="108.3" y="45.9" textLength="16.6" lengthAdjust="spacingAndGlyphs">1D,</text>
<text x="130" y="45.9" textLength="45" lengthAdjust="spacingAndGlyphs">BINANCE</text>
<text x="183.3" y="45.9" textLength="7.2" lengthAdjust="spacingAndGlyphs">O</text>
<text x="190.6" y="45.9" textLength="36.4" lengthAdjust="spacingAndGlyphs" fill="#26a69a">0.6825</text>
<text x="234.8" y="45.9" textLength="6.6" lengthAdjust="spacingAndGlyphs">H</text>
<text x="241.6" y="45.9" textLength="36.8" lengthAdjust="spacingAndGlyphs" fill="#26a69a">0.7920</text>
<text x="286.3" y="45.9" textLength="4.8" lengthAdjust="spacingAndGlyphs">L</text>
<text x="291.2" y="45.9" textLength="35.6" lengthAdjust="spacingAndGlyphs" fill="#26a69a">0.6712</text>
<text x="335" y="45.9" textLength="6.2" lengthAdjust="spacingAndGlyphs">C</text>
<text x="341.2" y="45.9" textLength="35.6" lengthAdjust="spacingAndGlyphs" fill="#26a69a">0.7713</text>
<text x="385" y="45.9" textLength="97" lengthAdjust="spacingAndGlyphs" fill="#26a69a">+0.0888 (+13.01%)</text>
<text x="17.6" y="62.8" textLength="16" lengthAdjust="spacingAndGlyphs">MA</text>
<text x="38.2" y="62.8" textLength="19" lengthAdjust="spacingAndGlyphs">(50,</text>
<text x="62.3" y="62.8" textLength="30.6" lengthAdjust="spacingAndGlyphs">close,</text>
<text x="97.2" y="62.8" textLength="10.3" lengthAdjust="spacingAndGlyphs">0)</text>
<text x="115.7" y="62.8" textLength="35.3" lengthAdjust="spacingAndGlyphs" fill="#f44336">0.7546</text>
<text x="18" y="79.7" textLength="22" lengthAdjust="spacingAndGlyphs">EMA</text>
<text x="44.6" y="79.7" textLength="19.4" lengthAdjust="spacingAndGlyphs">(20,</text>
<text x="69" y="79.7" textLength="30.3" lengthAdjust="spacingAndGlyphs">close,</text>
<text x="103.6" y="79.7" textLength="10.3" lengthAdjust="spacingAndGlyphs">0)</text>
<text x="122" y="79.7" textLength="35.8" lengthAdjust="spacingAndGlyphs" fill="#0c3299">0.6690</text>
<text x="17.6" y="96.6" textLength="16" lengthAdjust="spacingAndGlyphs">MA</text>
<text x="38.2" y="96.6" textLength="25.8" lengthAdjust="spacingAndGlyphs">(200,</text>
<text x="69" y="96.6" textLength="30.3" lengthAdjust="spacingAndGlyphs">close,</text>
<text x="103.6" y="96.6" textLength="10.3" lengthAdjust="spacingAndGlyphs">0)</text>
<text x="122" y="96.6" textLength="35.8" lengthAdjust="spacingAndGlyphs" fill="#00796b">0.9562</text>
<text x="1263.4" y="45.8" textLength="35.2" lengthAdjust="spacingAndGlyphs">1.8000</text>
<text x="1263.4" y="83.1" textLength="35.2" lengthAdjust="spacingAndGlyphs">1.7000</text>
<text x="1263.4" y="120.7" textLength="35.2" lengthAdjust="spacingAndGlyphs">1.6000</text>
<text x="1263.4" y="158.3" textLength="35.2" lengthAdjust="spacingAndGlyphs">1.5000</text>
<text x="1263.4" y="195.7" textLength="35.2" lengthAdjust="spacingAndGlyphs">1.4000</text>
<text x="1263.4" y="233.3" textLength="35.2" lengthAdjust="spacingAndGlyphs">1.3000</text>
<text x="1263.4" y="270.9" textLength="35.2" lengthAdjust="spacingAndGlyphs">1.2000</text>
<text x="1263.4" y="308.1" textLength="35.2" lengthAdjust="spacingAndGlyphs">1.1000</text>
<text x="1263.4" y="383.5" textLength="35.2" lengthAdjust="spacingAndGlyphs">0.9000</text>
<text x="1263.4" y="420.7" textLength="35.2" lengthAdjust="spacingAndGlyphs">0.8000</text>
<text x="1263.5" y="588.8" textLength="29" lengthAdjust="spacingAndGlyphs">80.00</text>
<text x="1263.5" y="640.9" textLength="29" lengthAdjust="spacingAndGlyphs">60.00</text>
<text x="1263.5" y="693.3" textLength="29" lengthAdjust="spacingAndGlyphs">40.00</text>
<clipPath id="c20"><rect x="1255" y="730" width="60" height="13"/></clipPath><g clip-path="url(#c20)">
<text x="1263.5" y="744.8" textLength="29" lengthAdjust="spacingAndGlyphs">20.00</text>
</g>
<rect x="1269.5" y="33.5" width="35" height="18" rx="3.5" fill="#fff" stroke="#d1d4dc"/>
<text x="1287" y="46.8" textLength="27" lengthAdjust="spacingAndGlyphs" text-anchor="middle">USDT</text>
<path d="M1253 86.4H1303a2 2 0 0 1 2 2V100.8a2 2 0 0 1 -2 2H1253z" fill="#0000ff"/>
<text x="1263.2" y="98.9" textLength="35.5" lengthAdjust="spacingAndGlyphs" fill="#fff" font-weight="bold">1.6600</text>
<path d="M1253 177H1303a2 2 0 0 1 2 2V192a2 2 0 0 1 -2 2H1253z" fill="#0000ff"/>
<text x="1263.2" y="189.8" textLength="35.5" lengthAdjust="spacingAndGlyphs" fill="#fff" font-weight="bold">1.4151</text>
<path d="M1253 333H1303a2 2 0 0 1 2 2V348a2 2 0 0 1 -2 2H1253z" fill="#0000ff"/>
<text x="1263.2" y="345.8" textLength="35.5" lengthAdjust="spacingAndGlyphs" fill="#fff" font-weight="bold">1.0000</text>
<path d="M1253 350H1303a2 2 0 0 1 2 2V364.6a2 2 0 0 1 -2 2H1253z" fill="#00796b"/>
<text x="1263.2" y="362.6" textLength="35.5" lengthAdjust="spacingAndGlyphs" fill="#fff" font-weight="bold">0.9562</text>
<path d="M1252 350H1227a2 2 0 0 0 -2 2V364.6a2 2 0 0 0 2 2H1252z" fill="#00796b"/>
<text x="1230.5" y="362.6" textLength="16" lengthAdjust="spacingAndGlyphs" fill="#fff" font-weight="bold">MA</text>
<path d="M1253 419H1314a2 2 0 0 1 2 2V448a2 2 0 0 1 -2 2H1253z" fill="#26a69a"/>
<text x="1263.2" y="432" textLength="35.4" lengthAdjust="spacingAndGlyphs" fill="#fff" font-weight="bold">0.7713</text>
<text x="1263.2" y="446" textLength="46.6" lengthAdjust="spacingAndGlyphs" fill="#d0ebe8">09:18:54</text>
<path d="M1253 450H1303a2 2 0 0 1 2 2V464.9a2 2 0 0 1 -2 2H1253z" fill="#f44336"/>
<text x="1263.2" y="462.75" textLength="35.5" lengthAdjust="spacingAndGlyphs" fill="#fff" font-weight="bold">0.7546</text>
<path d="M1252 450H1227a2 2 0 0 0 -2 2V464.9a2 2 0 0 0 2 2H1252z" fill="#f44336"/>
<text x="1230.5" y="462.75" textLength="16" lengthAdjust="spacingAndGlyphs" fill="#fff" font-weight="bold">MA</text>
<path d="M1253 466.9H1303a2 2 0 0 1 2 2V481.8a2 2 0 0 1 -2 2H1253z" fill="#0000ff"/>
<text x="1263.2" y="479.65" textLength="35.5" lengthAdjust="spacingAndGlyphs" fill="#fff" font-weight="bold">0.7500</text>
<path d="M1253 483.8H1303a2 2 0 0 1 2 2V498.7a2 2 0 0 1 -2 2H1253z" fill="#0c3299"/>
<text x="1263.2" y="496.55" textLength="35.5" lengthAdjust="spacingAndGlyphs" fill="#fff" font-weight="bold">0.6690</text>
<path d="M1252 483.8H1220a2 2 0 0 0 -2 2V498.7a2 2 0 0 0 2 2H1252z" fill="#0c3299"/>
<text x="1223.8" y="496.55" textLength="22.4" lengthAdjust="spacingAndGlyphs" fill="#fff" font-weight="bold">EMA</text>
<path d="M1253 500.7H1303a2 2 0 0 1 2 2V515.6a2 2 0 0 1 -2 2H1253z" fill="#0000ff"/>
<text x="1263.2" y="513.45" textLength="35.5" lengthAdjust="spacingAndGlyphs" fill="#fff" font-weight="bold">0.6542</text>
<path d="M1253 517.6H1303a2 2 0 0 1 2 2V532.5a2 2 0 0 1 -2 2H1253z" fill="#0000ff"/>
<text x="1263.2" y="530.35" textLength="35.5" lengthAdjust="spacingAndGlyphs" fill="#fff" font-weight="bold">0.5489</text>
<path d="M1253 534.5H1303a2 2 0 0 1 2 2V549.4a2 2 0 0 1 -2 2H1253z" fill="#0000ff"/>
<text x="1263.2" y="547.25" textLength="35.5" lengthAdjust="spacingAndGlyphs" fill="#fff" font-weight="bold">0.5000</text>
<path d="M1253 617H1297a2 2 0 0 1 2 2V632a2 2 0 0 1 -2 2H1253z" fill="#7e57c2"/>
<text x="1263.5" y="629.8" textLength="30" lengthAdjust="spacingAndGlyphs" fill="#fff" font-weight="bold">64.18</text>
<path d="M1252 617H1226a2 2 0 0 0 -2 2V632a2 2 0 0 0 2 2H1252z" fill="#7e57c2"/>
<text x="1230.4" y="629.8" textLength="15.2" lengthAdjust="spacingAndGlyphs" fill="#fff" font-weight="bold">RSI</text>
<text x="38.65" y="760.8" textLength="20.7" lengthAdjust="spacingAndGlyphs">May</text>
<text x="166" y="760.8" textLength="19" lengthAdjust="spacingAndGlyphs">Jun</text>
<text x="290.2" y="760.8" textLength="15.6" lengthAdjust="spacingAndGlyphs">Jul</text>
<text x="414.9" y="760.8" textLength="19.2" lengthAdjust="spacingAndGlyphs">Aug</text>
<text x="541.5" y="760.8" textLength="19.2" lengthAdjust="spacingAndGlyphs">Sep</text>
<text x="663.75" y="760.8" textLength="18.5" lengthAdjust="spacingAndGlyphs">Oct</text>
<text x="790.1" y="760.8" textLength="19.8" lengthAdjust="spacingAndGlyphs">Nov</text>
<text x="912.9" y="760.8" textLength="18.8" lengthAdjust="spacingAndGlyphs">Dec</text>
<text x="1035.3" y="760.8" textLength="27" lengthAdjust="spacingAndGlyphs" font-weight="bold">2022</text>
<text x="1165.8" y="760.8" textLength="19.2" lengthAdjust="spacingAndGlyphs">Feb</text>
<g fill="#1e222d"><path d="M10 783.2h8.4v9.8h-4.3v-5.6h-4.1z"/><circle cx="21.7" cy="785.2" r="1.95"/><path d="M24.6 783.2h4.8l-4.2 9.8h-4.8z"/></g>
<text x="33.4" y="793.2" textLength="69.5" lengthAdjust="spacingAndGlyphs" fill="#1e222d" font-size="12.6">TradingView</text>
</g>
</svg>
</body></html>
